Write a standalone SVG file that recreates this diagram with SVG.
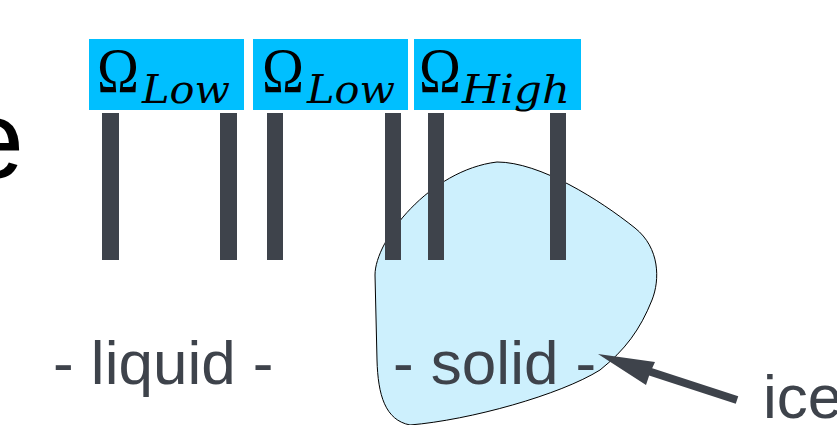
<svg xmlns="http://www.w3.org/2000/svg" width="837" height="425" viewBox="0 0 837 425">
<style>
.box{fill:#00bfff}
.om{font-family:"Liberation Serif",serif;font-size:63px;fill:#000}
.sub{font-family:"DejaVu Serif","Liberation Serif",serif;font-style:italic;font-size:39px;fill:#000}
.bar{fill:#3e434b}
.lbl{font-family:"Liberation Sans",Arial,sans-serif;font-size:62px;fill:#3e434b}
</style>
<rect width="837" height="425" fill="#fff"/>
<text x="24" y="178" font-family="Liberation Sans, Arial, sans-serif" font-size="112" fill="#000" text-anchor="end">e</text>
<g id="ice-blob">
<path d="M497 162 C540 162 600 200 635 228 C660 248 660 280 652 300 C640 330 625 350 600 370 C560 395 470 420 410 425 C385 420 378 395 377 360 L375 275 C375 240 430 170 497 162 Z" fill="#cdf0fd" stroke="#000" stroke-width="1"/>
</g>
<g id="omega-low-1">
<rect class="box" x="89" y="39" width="155" height="71"/>
<text class="om" x="97" y="92" textLength="42" lengthAdjust="spacingAndGlyphs">Ω</text>
<text class="sub" x="142" y="103" textLength="88" lengthAdjust="spacingAndGlyphs">Low</text>
</g>
<g id="omega-low-2">
<rect class="box" x="253" y="39" width="155" height="71"/>
<text class="om" x="262" y="92" textLength="42" lengthAdjust="spacingAndGlyphs">Ω</text>
<text class="sub" x="307" y="103" textLength="88" lengthAdjust="spacingAndGlyphs">Low</text>
</g>
<g id="omega-high">
<rect class="box" x="414" y="39" width="167" height="71"/>
<text class="om" x="419" y="92" textLength="42" lengthAdjust="spacingAndGlyphs">Ω</text>
<text class="sub" x="462" y="103" textLength="108" lengthAdjust="spacingAndGlyphs">High</text>
</g>
<g id="bars">
<rect class="bar" x="102" y="113" width="17" height="147"/>
<rect class="bar" x="220" y="113" width="17" height="147"/>
<rect class="bar" x="267" y="113" width="16" height="147"/>
<rect class="bar" x="385" y="113" width="16" height="147"/>
<rect class="bar" x="428" y="113" width="16" height="147"/>
<rect class="bar" x="550" y="113" width="16" height="147"/>
</g>
<g id="liquid-label"><text class="lbl" x="53" y="384">- liquid -</text></g>
<g id="solid-label"><text class="lbl" x="393" y="384">- solid -</text></g>
<g id="ice-label"><text class="lbl" x="763" y="418" font-size="58">ice</text></g>
<g id="connectors">
<line x1="737" y1="400" x2="648" y2="371" stroke="#3e434b" stroke-width="8"/>
<polygon points="598,354 655,362 650,373 646,385" fill="#3e434b"/>
</g>
</svg>
